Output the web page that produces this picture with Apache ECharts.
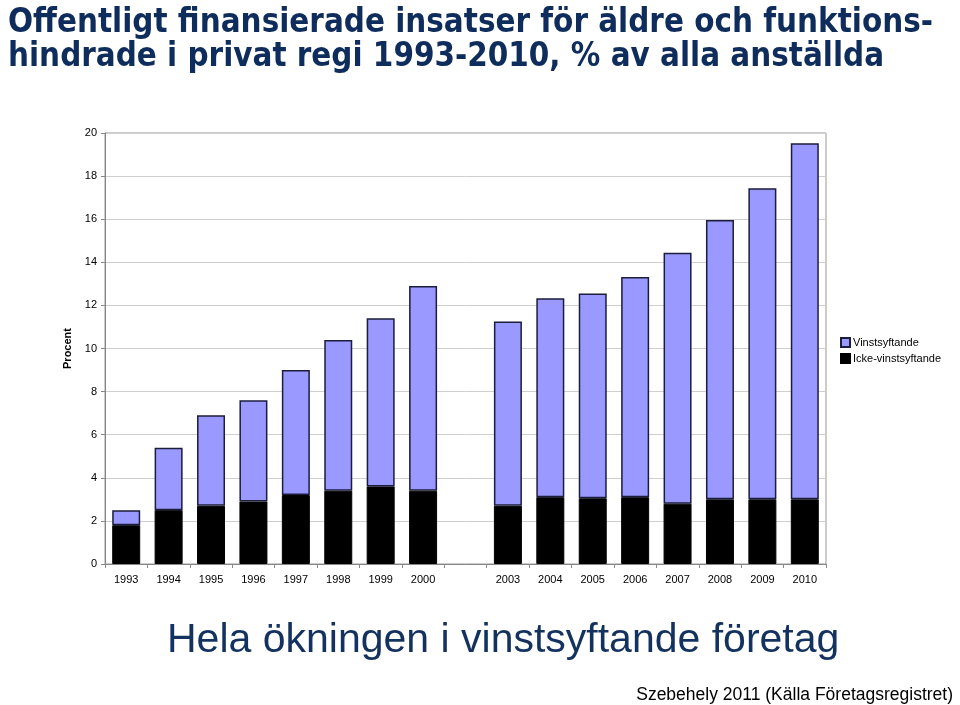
<!DOCTYPE html>
<html>
<head>
<meta charset="utf-8">
<script src="https://cdn.jsdelivr.net/npm/echarts@6/dist/echarts.min.js"></script>
<style>
  html, body { margin: 0; padding: 0; background: #fff; }
  #chart { width: 960px; height: 705px; }
</style>
</head>
<body>
<div id="chart"></div>
<script>
// år (tom plats mellan 2000 och 2003)
var years = ['1993', '1994', '1995', '1996', '1997', '1998', '1999', '2000', '',
             '2003', '2004', '2005', '2006', '2007', '2008', '2009', '2010'];
// Icke-vinstsyftande (svart, nederst)
var ickeVinst = [1.8, 2.5, 2.7, 2.9, 3.2, 3.4, 3.6, 3.4, null,
                 2.7, 3.1, 3.05, 3.1, 2.8, 3.0, 3.0, 3.0];
// Vinstsyftande (lila, ovanpå)
var vinst = [0.7, 2.9, 4.2, 4.7, 5.8, 7.0, 7.8, 9.5, null,
             8.55, 9.23, 9.5, 10.22, 11.64, 12.96, 14.44, 16.52];
var yTicks = [0, 2, 4, 6, 8, 10, 12, 14, 16, 18, 20];

var chart = echarts.init(document.getElementById('chart'));

var option = {
    backgroundColor: '#fff',
    animation: false,
    title: [{
        text: 'Offentligt finansierade insatser för äldre och funktions-\nhindrade i privat regi 1993-2010, % av alla anställda',
        left: 3,
        top: 1,
        textStyle: {
            fontFamily: 'DejaVu Sans Condensed',
            fontWeight: 'bold',
            fontSize: 32.8,
            lineHeight: 34,
            color: '#0f2d5c'
        }
    }, {
        text: 'Hela ökningen i vinstsyftande företag',
        left: 162,
        top: 615,
        textStyle: {
            fontFamily: 'Liberation Sans',
            fontWeight: 'normal',
            fontSize: 41,
            color: '#14325f'
        }
    }, {
        text: 'Szebehely 2011 (Källa Företagsregistret)',
        right: 2,
        top: 681,
        textStyle: {
            fontFamily: 'Liberation Sans',
            fontWeight: 'normal',
            fontSize: 17.5,
            color: '#000'
        }
    }],
    legend: {
        orient: 'vertical',
        left: 835,
        top: 332,
        itemWidth: 9,
        itemHeight: 9,
        itemGap: 5,
        icon: 'rect',
        data: ['Vinstsyftande', 'Icke-vinstsyftande'],
        textStyle: { fontFamily: 'Liberation Sans', fontSize: 11, color: '#000', padding: [0, 0, 0, -2] }
    },
    grid: {
        left: 105,
        right: 134,
        top: 133,
        bottom: 141,
        show: true,
        borderColor: '#999',
        borderWidth: 1
    },
    xAxis: {
        type: 'category',
        data: years,
        axisLine: { lineStyle: { color: '#888' } },
        axisTick: { show: true, length: 4, lineStyle: { color: '#888' } },
        axisLabel: { fontFamily: 'Liberation Sans', fontSize: 11, color: '#000', margin: 10, interval: 0 }
    },
    yAxis: {
        type: 'value',
        min: yTicks[0],
        max: yTicks[yTicks.length - 1],
        interval: 2,
        name: 'Procent',
        nameLocation: 'middle',
        nameRotate: 90,
        nameGap: 32,
        nameTextStyle: { fontFamily: 'Liberation Sans', fontWeight: 'bold', fontSize: 11, color: '#000' },
        axisLine: { show: true, lineStyle: { color: '#888' } },
        axisTick: { show: true, length: 4, lineStyle: { color: '#888' } },
        axisLabel: { fontFamily: 'Liberation Sans', fontSize: 11, color: '#000', margin: 8 },
        splitLine: { lineStyle: { color: '#cfcfcf' } }
    },
    series: [{
        name: 'Icke-vinstsyftande',
        type: 'bar',
        stack: 'total',
        data: ickeVinst,
        barCategoryGap: '34%',
        itemStyle: { color: '#000', borderColor: '#000', borderWidth: 1 }
    }, {
        name: 'Vinstsyftande',
        type: 'bar',
        stack: 'total',
        data: vinst,
        barCategoryGap: '34%',
        itemStyle: { color: '#9999ff', borderColor: '#1c1c3c', borderWidth: 1.5 }
    }]
};

chart.setOption(option);

window.addEventListener('resize', function() {
    chart.resize();
});
</script>
</body>
</html>
